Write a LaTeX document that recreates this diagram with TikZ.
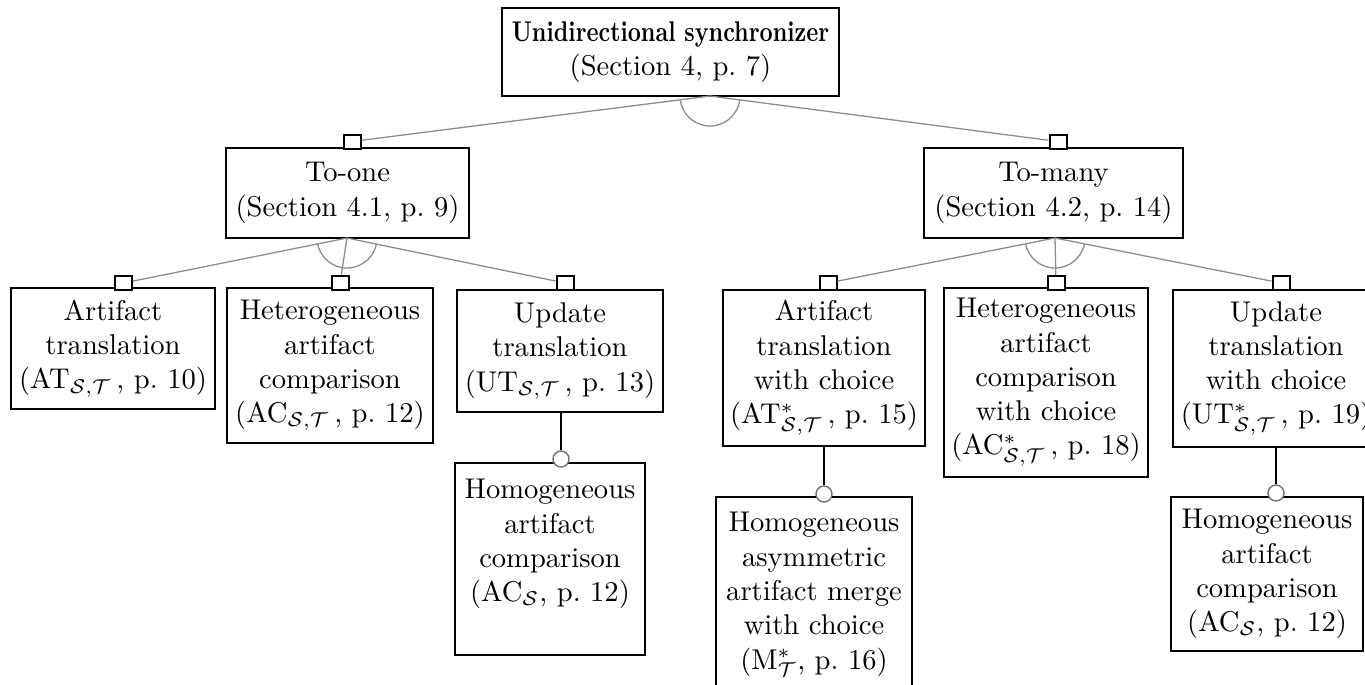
\documentclass[tikz,border=0pt]{standalone}
\usepackage{amsmath}
\begin{document}
\begin{tikzpicture}[x=0.35pt,y=-0.35pt,
 fbox/.style={draw, line width=0.6pt, align=center, inner sep=0pt, font=\fontsize{10}{12}\selectfont},
 edge/.style={draw=black!45, line width=0.45pt},
 mand/.style={draw, fill=white, line width=0.7pt, minimum width=17*0.35pt, minimum height=14*0.35pt, inner sep=0pt},
 opt/.style={circle, draw=black!55, fill=white, line width=0.5pt, minimum size=16*0.35pt, inner sep=0pt},
 link/.style={draw, line width=0.6pt}]
\useasboundingbox (0,0) rectangle (1365,684);
\def\u{0.35pt}
% boxes
\node[fbox, minimum width=337*\u, minimum height=88*\u] (root) at (670.5,52) {\scalebox{0.8}[1]{\textbf{Unidirectional synchronizer}}\\(Section 4, p.~7)};
\node[fbox, minimum width=243*\u, minimum height=90*\u] (toone) at (347.5,193) {To-one\\(Section 4.1, p.~9)};
\node[fbox, minimum width=259*\u, minimum height=90*\u] (tomany) at (1053.5,193) {To-many\\(Section 4.2, p.~14)};
\node[fbox, minimum width=204*\u, minimum height=121*\u] (at) at (113,348.5) {Artifact\\translation\\(AT$_{\mathcal{S},\mathcal{T}}$\,, p.~10)};
\node[fbox, minimum width=206*\u, minimum height=155*\u] (hac) at (330,365.5) {Heterogeneous\\artifact\\comparison\\(AC$_{\mathcal{S},\mathcal{T}}$\,, p.~12)};
\node[fbox, minimum width=206*\u, minimum height=122*\u] (ut) at (560,351) {Update\\translation\\(UT$_{\mathcal{S},\mathcal{T}}$\,, p.~13)};
\node[fbox, minimum width=190*\u, minimum height=192*\u] (hom1) at (550,559) {Homogeneous\\artifact\\comparison\\(AC$_{\mathcal{S}}$, p.~12)\rule[-13pt]{0pt}{13pt}};
\node[fbox, minimum width=202*\u, minimum height=156*\u] (atc) at (824,368) {Artifact\\translation\\with choice\\(AT$^{*}_{\mathcal{S},\mathcal{T}}$\,, p.~15)};
\node[fbox, minimum width=204*\u, minimum height=189*\u] (acc) at (1046,382.5) {Heterogeneous\\artifact\\comparison\\with choice\\(AC$^{*}_{\mathcal{S},\mathcal{T}}$\,, p.~18)};
\node[fbox, minimum width=206*\u, minimum height=157*\u] (utc) at (1276,368.5) {Update\\translation\\with choice\\(UT$^{*}_{\mathcal{S},\mathcal{T}}$\,, p.~19)};
\node[fbox, minimum width=196*\u, minimum height=196*\u] (hm) at (814,595) {Homogeneous\\asymmetric\\artifact merge\\with choice\\(M$^{*}_{\mathcal{T}}$, p.~16)\rule[-3pt]{0pt}{3pt}};
\node[fbox, minimum width=192*\u, minimum height=154*\u] (hom2) at (1267,574) {Homogeneous\\artifact\\comparison\\(AC$_{\mathcal{S}}$, p.~12)};
% branch points
\coordinate (rootbr) at (710,96);
\coordinate (tooneb) at (347,238);
\coordinate (tomanyb) at (1055,238);
% mandatory markers
\node[mand] (m1) at (352,141.5) {};
\node[mand] (m2) at (1058,141.5) {};
\node[mand] (m3) at (123.5,283) {};
\node[mand] (m4) at (340,283) {};
\node[mand] (m5) at (565,283) {};
\node[mand] (m6) at (828,283) {};
\node[mand] (m7) at (1056,283) {};
\node[mand] (m8) at (1281,283) {};
% optional markers
\node[opt] (o1) at (561,459) {};
\node[opt] (o2) at (824,494) {};
\node[opt] (o3) at (1276,493) {};
% edges
\draw[edge] (rootbr) -- (m1);
\draw[edge] (rootbr) -- (m2);
\draw[edge] (rootbr) ++(7.45:30) arc[start angle=7.45, end angle=172.76, radius=30];
\draw[edge] (tooneb) -- (m3);
\draw[edge] (tooneb) -- (m4);
\draw[edge] (tooneb) -- (m5);
\draw[edge] (tooneb) ++(11.66:30) arc[start angle=11.66, end angle=168.62, radius=30];
\draw[edge] (tomanyb) -- (m6);
\draw[edge] (tomanyb) -- (m7);
\draw[edge] (tomanyb) -- (m8);
\draw[edge] (tomanyb) ++(11.26:30) arc[start angle=11.26, end angle=168.79, radius=30];
\draw[link] (ut.south -| o1) -- (o1.north);
\draw[link] (atc.south -| o2) -- (o2.north);
\draw[link] (utc.south -| o3) -- (o3.north);
\end{tikzpicture}
\end{document}
